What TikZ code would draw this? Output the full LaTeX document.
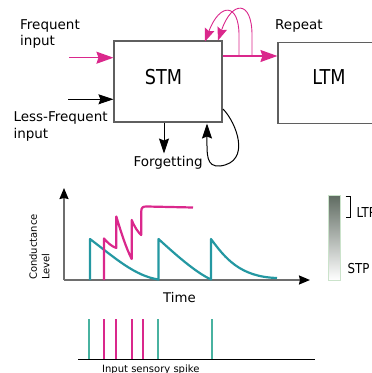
\documentclass[tikz,border=0pt]{standalone}
\usepackage{fontspec}
\setmainfont{DejaVu Sans}
\newfontfamily\condfont{DejaVu Sans}[FakeStretch=0.86]
\usetikzlibrary{arrows.meta}
\definecolor{pinkc}{RGB}{218,40,140}
\definecolor{tealc}{RGB}{36,152,162}
\definecolor{spiketeal}{RGB}{72,178,160}
\definecolor{boxgray}{RGB}{95,95,95}
\definecolor{axisgray}{RGB}{110,110,110}
\definecolor{bartop}{RGB}{95,107,97}
\definecolor{barmid}{RGB}{168,208,168}
\begin{document}
\begin{tikzpicture}[x=1pt,y=-1pt,
  box/.style={draw=boxgray, line width=1.1pt, inner sep=0},
  lbl/.style={font=\fontsize{13.5}{16.5}\selectfont, inner sep=0, align=left},
  big/.style={font=\condfont\fontsize{20.5}{24}\selectfont, inner sep=0},
  mid/.style={font=\condfont\fontsize{13.7}{16}\selectfont, inner sep=0},
  small/.style={font=\fontsize{10}{12.5}\selectfont, inner sep=0, align=left},
  blackarrow/.style={line width=1pt, -{Stealth[length=15pt, width=10pt, inset=2pt]}},
  pinkarrow/.style={draw=pinkc, line width=1.3pt, -{Stealth[length=17pt, width=12pt, inset=2pt, color=pinkc]}},
  pinkthin/.style={draw=pinkc, line width=0.9pt, -{Stealth[length=13pt, width=10pt, inset=2pt, color=pinkc]}},
  axis/.style={draw=axisgray, line width=1.6pt, -{Stealth[length=11pt, width=9pt, inset=1pt, color=black]}},
  tealcurve/.style={draw=tealc, line width=2.2pt, line join=round},
  pinkcurve/.style={draw=pinkc, line width=2.2pt, line join=round},
  tspike/.style={draw=spiketeal, line width=1.5pt},
  pspike/.style={draw=pinkc, line width=1.5pt}]
\useasboundingbox (0,0) rectangle (372,373);

% ---------- top part ----------
\node[box, minimum width=108pt, minimum height=81pt] (stm) at (168,81.5) {};
\node[box, minimum width=102pt, minimum height=80.5pt] (ltm) at (329,83) {};
\node[big] (stmt) at (163.5,77.5) {STM};
\node[big] (ltmt) at (329,77.5) {LTM};

\node[lbl, anchor=north west] (freq) at (20,19) {Frequent\\input};
\node[lbl, anchor=north west] (less) at (13.3,111.7) {Less-Frequent\\input};
\node[lbl, anchor=north west] (forg) at (133.3,156.5) {Forgetting};
\node[lbl, anchor=north west] (rep) at (275,19) {Repeat};

\coordinate (fin) at (69,57.7);
\draw[pinkarrow] (fin) -- (stm.west |- fin);
\coordinate (lin) at (68,99.3);
\draw[blackarrow] (lin) -- (stm.west |- lin);
\coordinate (fx) at (164,153.5);
\draw[blackarrow] (stm.south -| fx) -- (fx);

\coordinate (lp) at (223,109);
\coordinate (lq) at (207,123.5);
\draw[blackarrow] (lp) .. controls (236,122) and (252,162) .. (220,166)
  .. controls (206,167) and (207,155) .. (lq);

\coordinate (oy) at (0,56);
\draw[pinkarrow] (stm.east |- oy) -- (ltm.west |- oy);
\coordinate (r1) at (239,56);
\coordinate (r2) at (252,56);
\coordinate (t1) at (205,41.5);
\coordinate (t2) at (218,40.5);
\draw[pinkthin] (r1) -- (239,35) .. controls (239,3) and (220,2) .. (t1);
\draw[pinkthin] (r2) -- (252,35) .. controls (252,0) and (232,0) .. (t2);

% ---------- graph ----------
\coordinate (o) at (64,280);
\coordinate (yt) at (64,188);
\coordinate (xt) at (310,280);
\draw[axis] (o) -- (yt);
\draw[axis] (o) -- (xt);
\node[small, rotate=90, anchor=north west] (cond) at (29,280) {Conductance\\Level};
\node[lbl, anchor=north, font=\fontsize{13.3}{16}\selectfont] (time) at (179.5,292.5) {Time};

\draw[tealcurve] (90,280) -- (90,239) .. controls (115,258) and (135,276) .. (158.5,279.5)
  -- (158.5,239) .. controls (175,254) and (195,272) .. (211,279.5)
  -- (211,239) .. controls (225,258) and (240,277) .. (277,278);

\draw[pinkcurve] (104,280) -- (104,238.5) .. controls (108,243) and (111,246) .. (116.3,248)
  -- (116.3,216.5) .. controls (121,232) and (126,248) .. (131.7,259)
  -- (131.7,220) .. controls (135,228) and (138,232) .. (141.2,235)
  -- (141.2,212) .. controls (141.2,207) and (143,206.5) .. (147,206.5)
  -- (193,207.5);

% colour bar
\shade[top color=bartop, middle color=barmid, bottom color=white, draw=barmid!60, line width=0.3pt]
  (328,195) rectangle (340,280);
\draw[line width=0.9pt] (345.5,196) -- (350,196) -- (350,217) -- (345.5,217);
\node[mid, anchor=north west] (ltp) at (356.5,207) {LTP};
\node[mid, anchor=north west] (stp) at (347.5,263) {STP};

% ---------- spike train ----------
\coordinate (b0) at (78,359.5);
\coordinate (b1) at (315,359.5);
\draw[line width=1.2pt] (b0) -- (b1);
\foreach \x in {89,158,212} \draw[tspike] (\x,359) -- (\x,319);
\foreach \x in {104,116,132,143} \draw[pspike] (\x,359) -- (\x,319);
\node[small, anchor=north west] (spk) at (102,364.5) {Input sensory spike};
\end{tikzpicture}
\end{document}
